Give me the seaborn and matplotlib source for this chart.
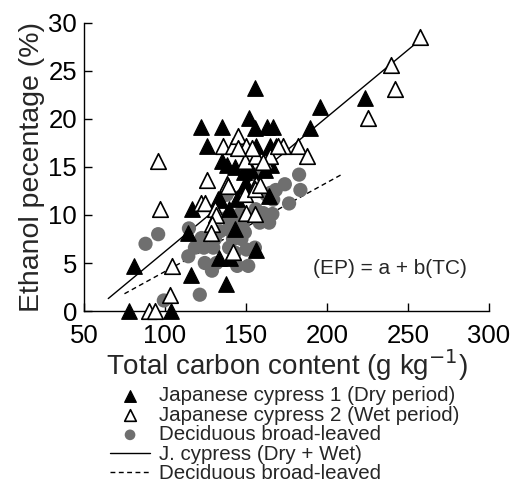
import matplotlib
matplotlib.use("Agg")
import matplotlib.pyplot as plt
import seaborn as sns

# ---- data ----
dry_tc = [78, 81, 104, 116, 116.4, 114, 122, 126, 135.5, 135.5, 137.6, 133, 139.6, 138,
          144.6, 150.3, 152.8, 152, 155.5, 155.5, 156.5, 162.7, 166.8, 164.7, 168.4, 165.7,
          161.6, 164.3, 133.5, 140, 143, 156.5, 189.4, 196, 223.3, 143, 149, 134, 148.5]
dry_ep = [0, 4.7, 0, 3.7, 10.6, 8.1, 19.2, 17.2, 19.2, 15.6, 2.8, 11.7, 10.6, 15.2,
          11.7, 13.2, 14.7, 20.1, 23.2, 19.1, 17.2, 19.2, 19.2, 17.2, 17.2, 15.2,
          14.7, 12.0, 5.5, 5.5, 8.5, 6.4, 19.1, 21.2, 22.2, 15.0, 13.0, 11.6, 14.5]

wet_tc = [90.3, 93.8, 96, 97, 103, 104.5, 122, 125, 126, 131, 131.4, 129, 128.3, 138,
          136, 142, 145, 150, 149.3, 149.3, 156.5, 155.5, 156, 161.6, 164.7, 173, 182,
          187.7, 142, 150.3, 155.5, 225.4, 239.8, 241.8, 257.2, 170, 139, 154, 158.6,
          160.5, 145]
wet_ep = [0, 0, 15.6, 10.6, 1.7, 4.7, 11.2, 11.2, 13.6, 10.6, 10.0, 9.1, 8.1, 13.2,
          17.2, 17.2, 18.2, 17.2, 15.6, 12.2, 13.2, 12.7, 16.1, 15.6, 16.1, 17.2, 17.2,
          16.1, 6.1, 10.2, 10.1, 20.1, 25.6, 23.1, 28.5, 17.2, 13.0, 17.0, 13.1,
          15.5, 17.0]

dec_tc = [88, 95.8, 99.3, 114.8, 114.4, 121.5, 118.5, 122.6, 124, 124.6, 129.8, 130.8,
          129, 131.8, 138, 139, 139.6, 142, 144.6, 144.6, 146.2, 147.2, 149.3, 150.3,
          151.4, 155.5, 156, 156.5, 158.5, 160.6, 164.3, 165, 166.3, 166.8, 168.4, 174,
          176.6, 182.8, 183.6, 162.7, 138, 142, 143, 134, 148]
dec_ep = [7.0, 8.0, 1.1, 8.6, 5.7, 1.7, 6.6, 7.6, 6.6, 5.0, 6.6, 7.5,
          4.2, 5.0, 12.1, 8.5, 6.6, 7.5, 8.8, 4.7, 10.1, 7.5, 8.2, 6.4,
          4.7, 6.6, 10.6, 14.2, 9.2, 10.2, 9.2, 12.3, 10.1, 11.6, 12.6, 13.2,
          11.2, 14.2, 12.6, 12.1, 9.7, 9.4, 6.1, 8.3, 9.0]

# regression lines (end points)
jc_line_tc = [65, 258]
jc_line_ep = [1.3, 28.3]
dec_line_tc = [75, 210]
dec_line_ep = [1.8, 14.3]

x_ticks = [50, 100, 150, 200, 250, 300]
y_ticks = [0, 5, 10, 15, 20, 25, 30]

labels = ["Japanese cypress 1 (Dry period)", "Japanese cypress 2 (Wet period)",
          "Deciduous broad-leaved", "J. cypress (Dry + Wet)", "Deciduous broad-leaved"]

# ---- plot ----
sns.set_style("ticks")
plt.rcParams["font.family"] = ["Liberation Sans", "DejaVu Sans"]

fig = plt.figure(figsize=(5.12, 4.86), dpi=100)
ax = fig.add_axes([0.164, 0.360, 0.791, 0.593])

sns.lineplot(x=jc_line_tc, y=jc_line_ep, ax=ax, color="black", lw=1.0,
             label=labels[3], zorder=1)
sns.lineplot(x=dec_line_tc, y=dec_line_ep, ax=ax, color="black", lw=1.0,
             linestyle=(0, (3.5, 2.5)), label=labels[4], zorder=1)

sns.scatterplot(x=dec_tc, y=dec_ep, ax=ax, marker="o", s=105, color="#6f6f6f",
                edgecolor="none", label=labels[2], zorder=2, clip_on=False)
sns.scatterplot(x=dry_tc, y=dry_ep, ax=ax, marker="^", s=125, color="black",
                edgecolor="black", label=labels[0], zorder=3, clip_on=False)
sns.scatterplot(x=wet_tc, y=wet_ep, ax=ax, marker="^", s=125, facecolor="white",
                edgecolor="black", linewidth=1.2, label=labels[1], zorder=4, clip_on=False)

ax.set_xlim(50, 300)
ax.set_ylim(0, 30)
ax.set_xticks(x_ticks)
ax.set_yticks(y_ticks)
sns.despine(ax=ax)
for s in ["left", "bottom"]:
    ax.spines[s].set_linewidth(1.0)
    ax.spines[s].set_color("black")
ax.tick_params(direction="in", length=6, width=1.0, labelsize=18.5, pad=5, colors="black")
ax.tick_params(axis="x", pad=9)

ax.set_xlabel("Total carbon content (g kg$^{-1}$)", fontsize=20, labelpad=0)
ax.set_ylabel("Ethanol pecentage (%)", fontsize=20.5, labelpad=2)

ax.text(191.5, 4.4, "(EP) = a + b(TC)", fontsize=15, ha="left", va="center")

hl = list(zip(*ax.get_legend_handles_labels()))
ordered = [hl[3], hl[4], hl[2], hl[0], hl[1]]
leg = ax.legend([h for h, _ in ordered], [l for _, l in ordered],
                loc="upper left", bbox_to_anchor=(110 / 512, 1 - 386 / 486),
                bbox_transform=fig.transFigure, frameon=False, fontsize=14.8,
                handlelength=1.95, handletextpad=0.45, labelspacing=0.03,
                markerscale=0.75, borderpad=0, borderaxespad=0)

fig.savefig("out.png", dpi=100)
